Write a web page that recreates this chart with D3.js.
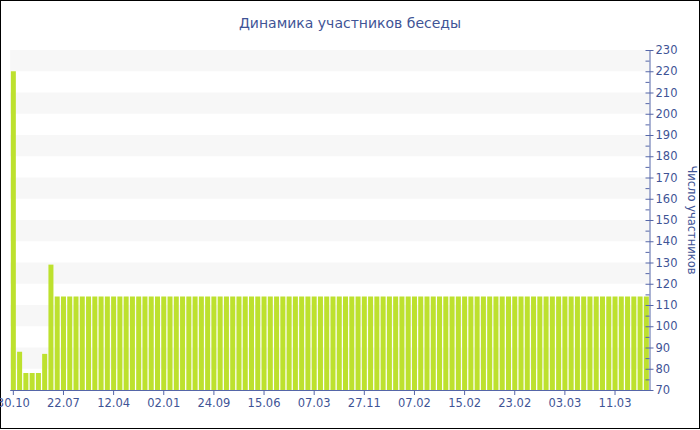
<!DOCTYPE html>
<html><head><meta charset="utf-8">
<script src="https://cdn.jsdelivr.net/npm/d3@7"></script>
<style>body{margin:0;background:#fff}svg{display:block}</style>
</head><body><svg id="c" width="700" height="430"></svg>
<script>
const title = "Динамика участников беседы";
const yTitle = "Число участников";
const values = [220, 88, 78, 78, 78, 87, 129,
  114,114,114,114,114,114,114,114,114,114,114,114,114,114,114,114,114,114,114,114,
  114,114,114,114,114,114,114,114,114,114,114,114,114,114,114,114,114,114,114,114,
  114,114,114,114,114,114,114,114,114,114,114,114,114,114,114,114,114,114,114,114,
  114,114,114,114,114,114,114,114,114,114,114,114,114,114,114,114,114,114,114,114,
  114,114,114,114,114,114,114,114,114,114,114,114,114,114,114];
const tickLabels = ["30.10","22.07","12.04","02.01","24.09","15.06","07.03","27.11","07.02","15.02","23.02","03.03","11.03"];
const tickEvery = 8;
const yTicks = d3.range(70, 231, 10);

const svg = d3.select("#c");
const pLeft = 10.2, pRight = 649.5, pTop = 50, pBottom = 390;
const cats = d3.range(values.length);
const x = d3.scaleBand().domain(cats).range([pLeft, pRight]).paddingInner(0.2).paddingOuter(0.1);
const y = d3.scaleLinear().domain([70, 230]).range([pBottom, pTop]);
const axisColor = "#5566a8", textColor = "#3f5496";
const font = "DejaVu Sans, Verdana, sans-serif";

svg.append("rect").attr("x",0.5).attr("y",0.5).attr("width",699).attr("height",428)
  .attr("fill","#fff").attr("stroke","#000");

// alternating bands
const bands = yTicks.filter(v => v < 230 && ((v - 80) % 20 === 0));
svg.append("g").selectAll("rect").data(bands).join("rect")
  .attr("x", pLeft).attr("width", pRight - pLeft)
  .attr("y", d => y(d + 10)).attr("height", d => y(d) - y(d + 10))
  .attr("fill", "#f7f7f7");

// bars
svg.append("g").selectAll("rect").data(values).join("rect")
  .attr("x", (d,i) => x(i)).attr("width", x.bandwidth())
  .attr("y", d => y(d)).attr("height", d => pBottom - y(d))
  .attr("fill", "#bde12e");

// x axis
const xTickIdx = tickLabels.map((t,i) => i * tickEvery);
const xAxis = d3.axisBottom(x).tickValues(xTickIdx)
  .tickFormat(d => tickLabels[d / tickEvery]).tickSize(5).tickSizeOuter(0).tickPadding(4);
const gx = svg.append("g").attr("transform", `translate(0,${pBottom})`).call(xAxis);
gx.select(".domain").attr("stroke", axisColor).attr("d", `M${pLeft},0.5H${pRight}`);
gx.selectAll(".tick line").attr("stroke", axisColor);
gx.selectAll("text").attr("fill", textColor).attr("font-size", "11.5px").attr("font-family", font);

// y axis (right)
const gyMinor = svg.append("g").attr("transform", `translate(${pRight},0)`)
  .call(d3.axisRight(y).tickValues(d3.range(75, 230, 10)).tickSize(0).tickFormat(""));
gyMinor.select(".domain").remove();
gyMinor.selectAll(".tick line").attr("x1", -4).attr("x2", 0).attr("stroke", axisColor);
const gy = svg.append("g").attr("transform", `translate(${pRight},0)`)
  .call(d3.axisRight(y).tickValues(yTicks).tickSize(4).tickSizeOuter(0).tickPadding(2));
gy.select(".domain").attr("stroke", axisColor);
gy.selectAll(".tick line").attr("x1", -4).attr("stroke", axisColor);
gy.selectAll("text").attr("fill", textColor).attr("font-size", "11.5px").attr("font-family", font);

svg.append("text").attr("x", 350).attr("y", 28).attr("text-anchor", "middle")
  .attr("fill", textColor).attr("font-size", "14px").attr("font-family", font).text(title);
svg.append("text").attr("transform", "translate(688,220) rotate(90)").attr("text-anchor", "middle")
  .attr("fill", textColor).attr("font-size", "11.5px").attr("font-family", font).text(yTitle);
</script></body></html>
